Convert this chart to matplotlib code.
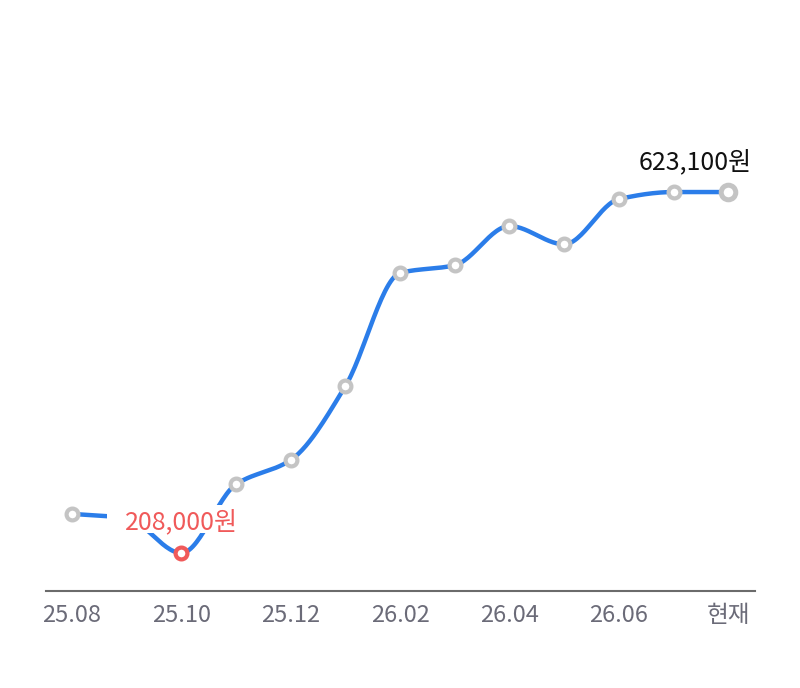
import numpy as np
import matplotlib.pyplot as plt
from matplotlib.patches import Rectangle
from matplotlib.transforms import IdentityTransform

plt.rcParams['font.family'] = ['Noto Sans CJK KR', 'DejaVu Sans']

# 월별 가격 (원)
months = ['25.08', '25.09', '25.10', '25.11', '25.12', '26.01', '26.02',
          '26.03', '26.04', '26.05', '26.06', '26.07', '현재']
prices = [253000, 248000, 208000, 287000, 315000, 400000, 530000,
          539000, 584000, 563000, 615000, 623100, 623100]
tick_labels = ['25.08', '25.10', '25.12', '26.02', '26.04', '26.06', '현재']
tick_idx = [0, 2, 4, 6, 8, 10, 12]


def monotone(x, y, n=30):
    # monotone cubic (Fritsch-Carlson) 보간
    x = np.asarray(x, float)
    y = np.asarray(y, float)
    h = np.diff(x)
    d = np.diff(y) / h
    m = np.zeros_like(y)
    for i in range(1, len(y) - 1):
        if d[i - 1] * d[i] > 0:
            m[i] = 2 / (1 / d[i - 1] + 1 / d[i])
    m[0] = d[0]
    m[-1] = d[-1]
    xs, ys = [], []
    for i in range(len(h)):
        t = np.linspace(0, 1, n)
        h00 = 2 * t**3 - 3 * t**2 + 1
        h10 = t**3 - 2 * t**2 + t
        h01 = -2 * t**3 + 3 * t**2
        h11 = t**3 - t**2
        xs.append(x[i] + t * h[i])
        ys.append(h00 * y[i] + h10 * h[i] * m[i] + h01 * y[i + 1] + h11 * h[i] * m[i + 1])
    return np.concatenate(xs), np.concatenate(ys)


x = np.arange(len(months))
xs, ys = monotone(x, prices)

fig = plt.figure(figsize=(8, 6.88), dpi=100)
ax = fig.add_axes([46 / 800, (688 - 591) / 688, 709 / 800, 491 / 688])

ax.plot(xs, ys, color='#2b7de9', lw=3.2, zorder=2, solid_capstyle='round')

imin = int(np.argmin(prices))
for i in x:
    if i == imin:
        continue
    if i == len(x) - 1:
        ax.plot(i, prices[i], 'o', ms=10.5, mfc='white', mec='#c4c4c4', mew=3.6, zorder=3)
    else:
        ax.plot(i, prices[i], 'o', ms=8.5, mfc='white', mec='#c4c4c4', mew=3, zorder=3)

ax.plot(imin, prices[imin], 'o', ms=8.5, mfc='white', mec='#f05a5a', mew=3, zorder=5)

t_min = ax.text(imin, prices[imin] + 20000, f'{prices[imin]:,}원', color='#f05a5a',
                fontsize=18, ha='center', va='bottom', zorder=4.5)
ax.text(len(x) - 1.6, prices[-1] + 19000, f'{prices[-1]:,}원', color='#111111',
        fontsize=18, ha='center', va='bottom', zorder=4)

ax.set_xlim(-0.476, 12.49)
ax.set_ylim(164300, 728950)
ax.set_xticks(tick_idx)
ax.set_xticklabels(tick_labels, fontsize=17, color='#6b6b78')
ax.tick_params(axis='x', length=0, pad=9)
ax.set_yticks([])
for s in ['top', 'right', 'left']:
    ax.spines[s].set_visible(False)
ax.spines['bottom'].set_color('#6b6b6b')
ax.spines['bottom'].set_linewidth(1.5)

# 최저가 라벨 뒤 흰 배경 (좌우 여백 넓게)
fig.canvas.draw()
bb = t_min.get_window_extent()
ax.add_patch(Rectangle((bb.x0 - 18, bb.y0 + 3), bb.width + 36, bb.height + 2,
                       transform=IdentityTransform(), fc='white', ec='none',
                       zorder=4, clip_on=False))

fig.savefig('out.png', dpi=100, facecolor='white')
